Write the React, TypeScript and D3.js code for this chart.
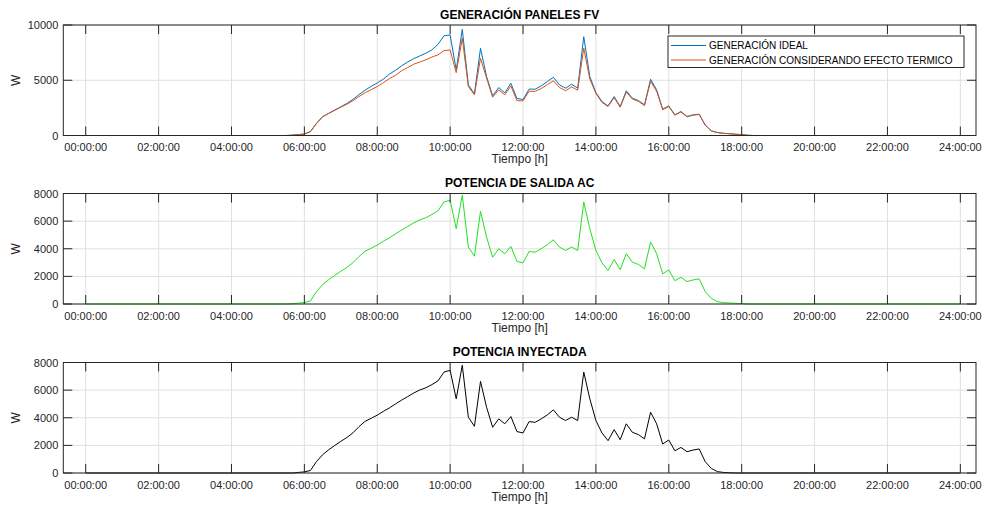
import React from 'react';
import * as d3 from 'd3';

// 10-minute samples starting at 05:30 (hours), outside this window the power is 0
const sampleStartHour = 5.5;
const sampleStepHour = 10 / 60;

const idealW = [
  0, 30, 80, 130, 350, 1100, 1700, 2000, 2300, 2600, 2900, 3270, 3700, 4100, 4450, 4750,
  5100, 5550, 5900, 6300, 6650, 6950, 7200, 7450, 7750, 8250, 9030, 9100, 5940, 9610,
  4580, 3770, 7890, 5330, 3590, 4340, 3850, 4730, 3350, 3260, 4200, 4190, 4490, 4880,
  5270, 4580, 4280, 4640, 4280, 8940, 5330, 3890, 3070, 2680, 3520, 2620, 4040, 3380,
  3160, 2770, 5090, 4130, 2380, 2680, 1870, 2170, 1720, 1870, 1930, 950, 420, 270, 200,
  160, 120, 80, 20, 0,
];

const thermalW = [
  0, 30, 80, 130, 350, 1100, 1700, 2000, 2280, 2560, 2830, 3150, 3520, 3870, 4150, 4430,
  4780, 5150, 5450, 5850, 6150, 6450, 6650, 6850, 7100, 7300, 7680, 7740, 5690, 8800,
  4430, 3680, 6990, 5190, 3470, 4130, 3680, 4490, 3160, 3130, 4000, 4000, 4250, 4600,
  4950, 4350, 4050, 4400, 4100, 7900, 5100, 3800, 3000, 2620, 3420, 2560, 3930, 3300,
  3090, 2710, 4900, 4000, 2330, 2630, 1840, 2130, 1690, 1840, 1900, 930, 410, 265, 195,
  155, 115, 75, 20, 0,
];

const acW = [
  0, 20, 60, 110, 220, 900, 1400, 1760, 2070, 2370, 2650, 2990, 3440, 3820, 4040, 4270,
  4540, 4790, 5080, 5350, 5610, 5870, 6090, 6250, 6480, 6750, 7390, 7510, 5450, 7880,
  4120, 3460, 6710, 4840, 3390, 4000, 3640, 4170, 3080, 2980, 3800, 3750, 4000, 4290,
  4650, 4120, 3880, 4120, 3880, 7390, 5450, 3880, 2980, 2420, 3220, 2490, 3640, 3030,
  2860, 2550, 4480, 3640, 2180, 2470, 1690, 1930, 1620, 1740, 1820, 900, 410, 170, 100,
  70, 50, 30, 0, 0,
];

const injectedW = [
  0, 0, 40, 80, 180, 830, 1320, 1680, 1990, 2290, 2570, 2910, 3360, 3740, 3960, 4190,
  4460, 4710, 5000, 5270, 5530, 5790, 6010, 6170, 6400, 6670, 7310, 7430, 5370, 7800,
  4040, 3380, 6630, 4760, 3310, 3920, 3560, 4090, 3000, 2900, 3720, 3670, 3920, 4210,
  4570, 4040, 3800, 4040, 3800, 7310, 5370, 3800, 2900, 2340, 3140, 2410, 3560, 2950,
  2780, 2470, 4400, 3560, 2100, 2390, 1610, 1850, 1540, 1660, 1740, 820, 330, 100, 40,
  20, 0, 0, 0, 0,
];

const xTickHours = [0, 2, 4, 6, 8, 10, 12, 14, 16, 18, 20, 22, 24];
const genYTicks = [0, 5000, 10000];
const powerYTicks = [0, 2000, 4000, 6000, 8000];
const legendLabels = ['GENERACIÓN IDEAL', 'GENERACIÓN CONSIDERANDO EFECTO TERMICO'];

const FONT = '"Liberation Sans", Arial, Helvetica, sans-serif';
const INK = '#262626';
const GRID = '#e0e0e0';

const panels = [
  {
    title: 'GENERACIÓN PANELES FV', top: 25, yMax: 10000, yTicks: genYTicks,
    series: [{ values: idealW, color: '#0072BD' }, { values: thermalW, color: '#D95319' }],
    legend: true,
  },
  {
    title: 'POTENCIA DE SALIDA AC', top: 193.5, yMax: 8000, yTicks: powerYTicks,
    series: [{ values: acW, color: '#22e022' }], legend: false,
  },
  {
    title: 'POTENCIA INYECTADA', top: 362.5, yMax: 8000, yTicks: powerYTicks,
    series: [{ values: injectedW, color: '#000000' }], legend: false,
  },
];

const pad = (n: number) => (n < 10 ? '0' + n : '' + n);

export default function App() {
  const ref = React.useRef<SVGSVGElement>(null);

  React.useEffect(() => {
    if (!ref.current) return;
    const svg = d3.select(ref.current);
    svg.selectAll('*').remove();

    const left = 63.3;
    const right = 976;
    const panelH = 110.5;
    const tickLen = 9;

    const x = d3.scaleLinear().domain([-0.615, 24.43]).range([left, right]);

    panels.forEach((p) => {
      const bottom = p.top + panelH;
      const y = d3.scaleLinear().domain([0, p.yMax]).range([bottom, p.top]);
      const g = svg.append('g');

      g.append('rect')
        .attr('x', left).attr('y', p.top)
        .attr('width', right - left).attr('height', panelH)
        .attr('fill', '#fff');

      // grid
      g.selectAll('line.gx').data(xTickHours).enter().append('line')
        .attr('x1', (d) => x(d)).attr('x2', (d) => x(d))
        .attr('y1', p.top).attr('y2', bottom)
        .attr('stroke', GRID).attr('stroke-width', 1);
      g.selectAll('line.gy').data(p.yTicks).enter().append('line')
        .attr('x1', left).attr('x2', right)
        .attr('y1', (d) => y(d)).attr('y2', (d) => y(d))
        .attr('stroke', GRID).attr('stroke-width', 1);

      // series
      p.series.forEach((s) => {
        const pts: [number, number][] = [[0, 0]];
        s.values.forEach((v, i) => pts.push([sampleStartHour + i * sampleStepHour, v]));
        pts.push([24, 0]);
        const line = d3.line<[number, number]>().x((d) => x(d[0])).y((d) => y(d[1]));
        g.append('path').attr('d', line(pts))
          .attr('fill', 'none').attr('stroke', s.color).attr('stroke-width', 1)
          .attr('stroke-linejoin', 'round');
      });

      // box
      g.append('rect')
        .attr('x', left).attr('y', p.top)
        .attr('width', right - left).attr('height', panelH)
        .attr('fill', 'none').attr('stroke', INK).attr('stroke-width', 1);

      // ticks (inside, all four sides)
      xTickHours.forEach((h) => {
        g.append('line').attr('x1', x(h)).attr('x2', x(h))
          .attr('y1', bottom).attr('y2', bottom - tickLen).attr('stroke', INK);
        g.append('line').attr('x1', x(h)).attr('x2', x(h))
          .attr('y1', p.top).attr('y2', p.top + tickLen).attr('stroke', INK);
      });
      p.yTicks.forEach((v) => {
        g.append('line').attr('x1', left).attr('x2', left + tickLen)
          .attr('y1', y(v)).attr('y2', y(v)).attr('stroke', INK);
        g.append('line').attr('x1', right).attr('x2', right - tickLen)
          .attr('y1', y(v)).attr('y2', y(v)).attr('stroke', INK);
      });

      // tick labels
      g.selectAll('text.xl').data(xTickHours).enter().append('text')
        .attr('x', (d) => x(d)).attr('y', bottom + 15.5)
        .attr('text-anchor', 'middle').attr('font-size', 11)
        .attr('font-family', FONT).attr('fill', INK)
        .text((d) => `${pad(d)}:00:00`);
      g.selectAll('text.yl').data(p.yTicks).enter().append('text')
        .attr('x', left - 5).attr('y', (d) => y(d) + 4)
        .attr('text-anchor', 'end').attr('font-size', 11)
        .attr('font-family', FONT).attr('fill', INK)
        .text((d) => String(d));

      // axis titles
      g.append('text')
        .attr('x', (left + right) / 2).attr('y', bottom + 27.5)
        .attr('text-anchor', 'middle').attr('font-size', 12)
        .attr('font-family', FONT).attr('fill', INK)
        .text('Tiempo [h]');
      g.append('text')
        .attr('transform', `translate(19.5,${p.top + panelH / 2}) rotate(-90)`)
        .attr('text-anchor', 'middle').attr('font-size', 12)
        .attr('font-family', FONT).attr('fill', INK)
        .text('W');
      g.append('text')
        .attr('x', (left + right) / 2).attr('y', p.top - 6.5)
        .attr('text-anchor', 'middle').attr('font-size', 12).attr('font-weight', 'bold')
        .attr('font-family', FONT).attr('fill', '#000')
        .text(p.title);

      if (p.legend) {
        const lg = g.append('g');
        lg.append('rect')
          .attr('x', 668).attr('y', 36).attr('width', 296).attr('height', 31.5)
          .attr('fill', '#fff').attr('stroke', INK).attr('stroke-width', 1);
        p.series.forEach((s, i) => {
          const ly = 45.5 + i * 14.5;
          lg.append('line').attr('x1', 671).attr('x2', 706)
            .attr('y1', ly).attr('y2', ly)
            .attr('stroke', s.color).attr('stroke-width', 1);
          lg.append('text').attr('x', 709).attr('y', ly + 3.6)
            .attr('font-size', 10).attr('font-family', FONT).attr('fill', '#000')
            .text(legendLabels[i]);
        });
      }
    });
  }, []);

  return (
    <div style={{ position: 'fixed', left: 0, top: 0, width: 985, height: 512, background: '#fff' }}>
      <svg ref={ref} width={985} height={512} />
    </div>
  );
}
